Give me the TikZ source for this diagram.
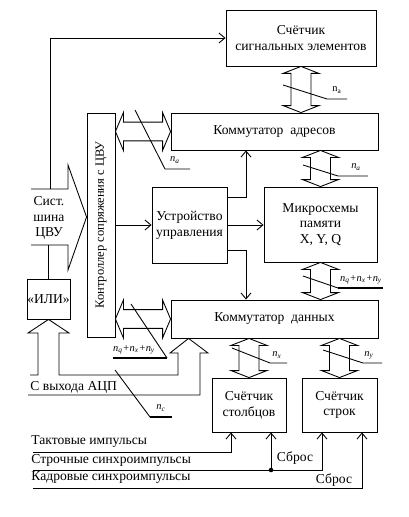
\documentclass[tikz,border=0pt]{standalone}
\usepackage{fontspec}
\setmainfont{Liberation Serif}
\usetikzlibrary{calc,arrows.meta,shadows}
\def\bh{13.5pt}\def\bw{7.5pt}\def\bl{5.25pt}
\def\hh{14.25pt}\def\hw{7pt}\def\hl{6pt}
\newcommand\vbus[2]{\draw[bus] let \p1=#1, \p2=#2 in (\x1,\y1) -- (\x1+\bh,\y1-\bl) -- (\x1+\bw,\y1-\bl) -- (\x1+\bw,\y2+\bl) -- (\x1+\bh,\y2+\bl) -- (\x1,\y2) -- (\x1-\bh,\y2+\bl) -- (\x1-\bw,\y2+\bl) -- (\x1-\bw,\y1-\bl) -- (\x1-\bh,\y1-\bl) -- cycle;}
\newcommand\hbus[2]{\draw[bus] let \p1=#1, \p2=#2 in (\x1,\y1) -- (\x1+\hl,\y1+\hh) -- (\x1+\hl,\y1+\hw) -- (\x2-\hl,\y1+\hw) -- (\x2-\hl,\y1+\hh) -- (\x2,\y1) -- (\x2-\hl,\y1-\hh) -- (\x2-\hl,\y1-\hw) -- (\x1+\hl,\y1-\hw) -- (\x1+\hl,\y1-\hh) -- cycle;}
\begin{document}
\begin{tikzpicture}[x=0.75pt,y=-0.75pt,
  font=\fontsize{10.2pt}{11.8pt}\selectfont, line width=0.65pt,
  box/.style={draw, line width=0.65pt, fill=white, inner sep=0pt, align=center,
    drop shadow={shadow xshift=1.1pt, shadow yshift=-1.1pt, fill=black, opacity=1}},
  arr/.style={-{Straight Barb[length=4.5pt,width=7.5pt]}},
  bus/.style={draw, line width=0.65pt, fill=white},
  lab/.style={font=\fontsize{7.8pt}{8pt}\selectfont\itshape, inner sep=0pt},
  thk/.style={line width=1.5pt},
  txt/.style={inner sep=0pt}]
\useasboundingbox (0,0) rectangle (409,517);

% blocks
\node[box, minimum width=112.5pt, minimum height=42pt] (sc) at (301,38) {Счётчик\\сигнальных элементов};
\node[box, minimum width=155.25pt, minimum height=27.75pt] (ka) at (274.5,131.5) {Коммутатор\ \ адресов};
\node[box, minimum width=21pt, minimum height=168pt] (ctl) at (101,225) {};
\node[txt, rotate=90, font=\fontsize{9.4pt}{11pt}\selectfont] (ctlt) at (ctl) {Контроллер сопряжения с ЦВУ};
\node[box, minimum width=56.25pt, minimum height=57pt] (uu) at (189.5,225) {Устройство\\управления};
\node[box, minimum width=84.75pt, minimum height=56.25pt] (mem) at (320.5,224.5) {Микросхемы\\памяти\\X, Y, Q};
\node[box, minimum width=155.25pt, minimum height=28.5pt] (kd) at (274.5,319) {Коммутатор\ \ данных};
\node[box, minimum width=32.25pt, minimum height=30pt] (ili) at (48.5,299) {«ИЛИ»};
\node[box, minimum width=55.5pt, minimum height=40.5pt] (cs) at (249,405) {Счётчик\\столбцов};
\node[box, minimum width=56.25pt, minimum height=40.5pt] (cr) at (339.5,405) {Счётчик\\строк};

% buses
\vbus{(sc.south)}{(ka.north)}
\vbus{(ka.south -| mem.north)}{(mem.north)}
\vbus{(mem.south)}{(kd.north)}
\vbus{(kd.south -| cs.north)}{(cs.north)}
\vbus{(kd.south -| cr.north)}{(cr.north)}
\hbus{(ctl.east |- ka.west)}{(ka.west)}
\hbus{(ctl.east |- kd.west)}{(kd.west)}

% system bus of the computer
\coordinate (bt) at (50,189);
\draw[arr] (bt) |- (sc.west);
\draw (31,189) -- (68,189) -- (68,165) -- ($(ctl.west)+(0,-8)$) -- (68,270) -- (68,245) -- (31,245);
\node[txt, align=center, font=\fontsize{10.2pt}{11.4pt}\selectfont] (sys) at (49,218) {Сист.\\шина\\ЦВУ};
\draw (ili.north) -- (ili.north |- 0,245);

% control arrows
\coordinate (cx) at (246,0);
\draw[arr] (ctl.east |- uu.west) -- (uu.west);
\draw[arr] (uu.east) -- (uu.east -| mem.west);
\draw[arr] ([yshift=21pt]uu.east) -| (ka.south -| cx);
\draw[arr] ([yshift=-18.75pt]uu.east) -| (kd.north -| cx);

% ADC input bus
\draw (30,375) -- (38,375) -- (38,333) -- (28,333) -- (ili.south) -- (69,333) -- (59,333) -- (59,375)
  -- (178,375) -- (178,353) -- (170,353) -- ($(kd.south west)+(18,0)$) -- (208,353) -- (200,353)
  -- (200,395) -- (28,395);
\node[txt, anchor=west] (adc) at (30,387) {С выхода АЦП};

% bus widths
\draw (283,85) -- (327,99) -- (347,99);
\node[lab] (la1) at (337,90) {\upshape n\textsubscript{a}};
\draw (303,165) -- (338,176) -- (368,176);
\node[lab] (la2) at (356,167) {n\textsubscript{a}};
\draw (303,276) -- (338,288);
\draw[thk] (338,288) -- (383,288);
\node[lab] (la3) at (361,280) {n\textsubscript{q}+n\textsubscript{x}+n\textsubscript{y}};
\draw (131,304) -- (167,358);
\draw[thk] (113,358) -- (167,358);
\node[lab] (la4) at (134,350) {n\textsubscript{q}+n\textsubscript{x}+n\textsubscript{y}};
\draw (135,110) -- (165,169) -- (190,169);
\node[lab] (la5) at (175,160) {n\textsubscript{a}};
\draw (232,348) -- (270,363) -- (287,363);
\node[lab] (la6) at (277,355) {n\textsubscript{x}};
\draw (323,350) -- (363,363) -- (382,363);
\node[lab] (la7) at (369,355) {n\textsubscript{y}};
\draw (115,370) -- (150,417);
\draw[thk] (150,417) -- (172,417);
\node[lab] (la8) at (161,408) {n\textsubscript{c}};

% synchronisation lines
\node[txt, anchor=west] (t1) at (31,442) {Тактовые импульсы};
\node[txt, anchor=west] (t2) at (31,460) {Строчные синхроимпульсы};
\node[txt, anchor=west] (t3) at (31,478) {Кадровые синхроимпульсы};
\coordinate (ta) at (33,452);
\coordinate (sa) at (33,470);
\coordinate (qa) at (33,488);
\coordinate (dt) at (271,470);
\draw[arr] (ta) -| ([xshift=-13.5pt]cs.south);
\draw[arr] (sa) -| ([xshift=-13.125pt]cr.south);
\draw[arr] (dt) -- (dt |- cs.south);
\fill (dt) circle (1.7pt);
\node[txt] (r1) at (295,458) {Сброс};
\draw[arr] (qa) -| ([xshift=16.875pt]cr.south);
\node[txt] (r2) at (334,480) {Сброс};
\end{tikzpicture}
\end{document}
